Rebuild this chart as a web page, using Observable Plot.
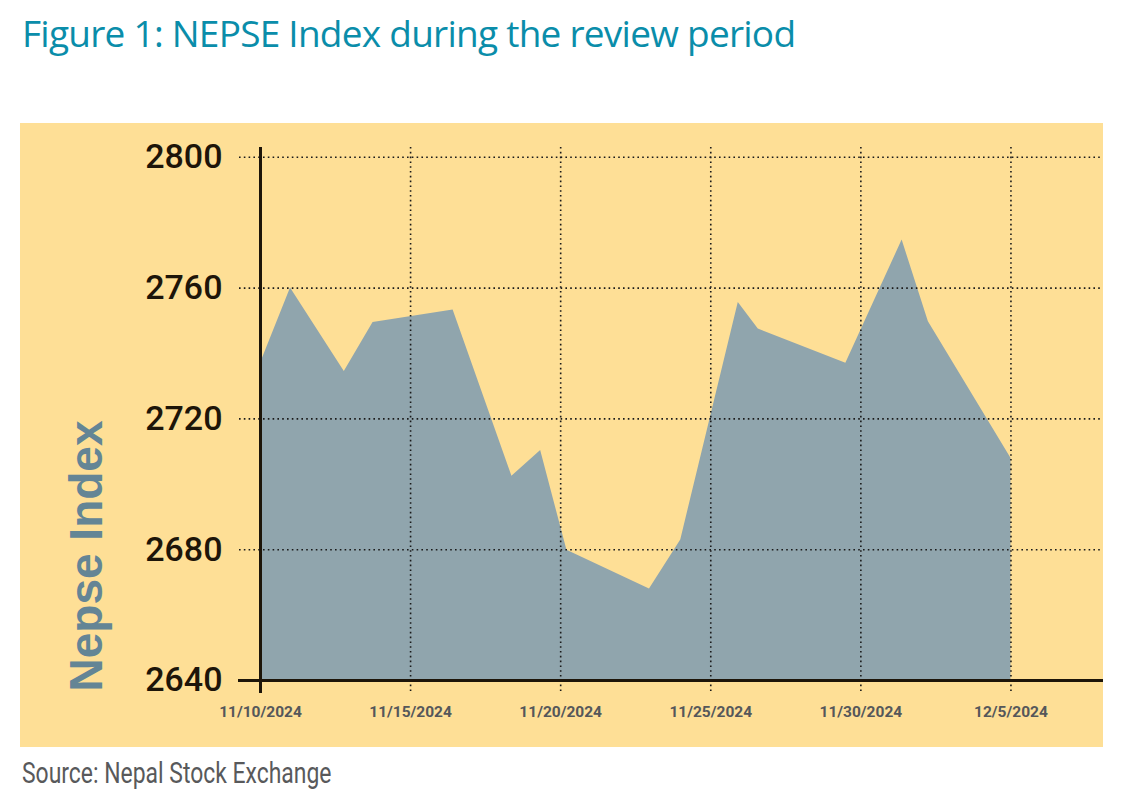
<!DOCTYPE html>
<html><head><meta charset="utf-8">
<script src="https://cdn.jsdelivr.net/npm/d3@7"></script>
<script src="https://cdn.jsdelivr.net/npm/@observablehq/plot@0.6"></script>
<style>
body{margin:0;background:#fff;width:1128px;height:800px;position:relative;overflow:hidden}
#title{position:absolute;left:22px;top:7px;font-family:"Open Sans";font-size:37px;color:#0a8daa;letter-spacing:-0.75px;white-space:nowrap}
#chart{position:absolute;left:20px;top:123px}
#source{position:absolute;left:22px;top:756px;font-family:Roboto;font-size:29px;color:#58595b;white-space:nowrap;transform:scaleX(0.79);transform-origin:left top}
</style></head><body>
<div id="title">Figure 1: NEPSE Index during the review period</div>
<div id="chart"></div>
<div id="source">Source: Nepal Stock Exchange</div>
<script>
const dates = ["2024-11-10T00:00","2024-11-11T00:00","2024-11-12T19:00","2024-11-13T18:00","2024-11-16T10:00","2024-11-18T09:00","2024-11-19T08:00","2024-11-20T05:00","2024-11-22T23:00","2024-11-24T00:00","2024-11-25T22:00","2024-11-26T14:00","2024-11-29T12:00","2024-12-01T09:00","2024-12-02T06:00","2024-12-05T00:00"];
const values = [2737, 2760, 2734.5, 2749.5, 2753.3, 2702.5, 2710.3, 2679.8, 2668, 2683, 2755.6, 2747.5, 2737, 2774.7, 2749.7, 2708];
const yTicks = [2640, 2680, 2720, 2760, 2800];
const xTicks = ["2024-11-10T00:00","2024-11-15T00:00","2024-11-20T00:00","2024-11-25T00:00","2024-11-30T00:00","2024-12-05T00:00"];
const xDomain = ["2024-11-10T00:00","2024-12-08T02:00"];
const yDomain = [2640, 2803];
const yLabel = "Nepse Index";

const parse = s => new Date(s + "Z");
const data = dates.map((d, i) => ({date: parse(d), value: values[i]}));
const xt = xTicks.map(parse);
const fmt = d3.utcFormat("%-m/%-d/%Y");
const dark = "#1d1509";
const dot = {stroke: "#1a1a1a", strokeWidth: 1.6, strokeDasharray: "1.6,3.2"};

const chart = Plot.plot({
  width: 1083, height: 624,
  marginLeft: 240, marginRight: 0, marginTop: 24, marginBottom: 67,
  style: {background: "#fedf96", overflow: "visible"},
  x: {type: "utc", domain: xDomain.map(parse)},
  y: {domain: yDomain},
  marks: [
    Plot.areaY(data, {x: "date", y1: yDomain[0], y2: "value", fill: "#90a5ad"}),
    Plot.ruleY(yTicks.slice(1), {...dot, insetLeft: -21}),
    Plot.ruleX(xt.slice(1), {...dot, insetBottom: -13}),
    Plot.ruleY([yDomain[0]], {stroke: dark, strokeWidth: 3, insetLeft: -22}),
    Plot.ruleX([xt[0]], {stroke: dark, strokeWidth: 3, insetBottom: -13}),
    Plot.axisY(yTicks, {tickSize: 0, tickPadding: 38, tickFormat: d => String(d), fontSize: 34, fontWeight: 500, fontFamily: "Roboto", fill: dark, label: null}),
    Plot.axisX(xt, {tickSize: 0, tickPadding: 25, tickFormat: fmt, fontSize: 15.5, fontWeight: 700, fontFamily: "Roboto", fill: "#55575a", label: null})
  ]
});
d3.select(chart).append("text")
  .attr("transform", "translate(82,433) rotate(-90)")
  .attr("text-anchor", "middle")
  .attr("font-family", "Liberation Sans")
  .attr("font-weight", 700)
  .attr("font-size", 46)
  .attr("fill", "#648595")
  .text(yLabel);
document.getElementById("chart").appendChild(chart);
</script>
</body></html>
